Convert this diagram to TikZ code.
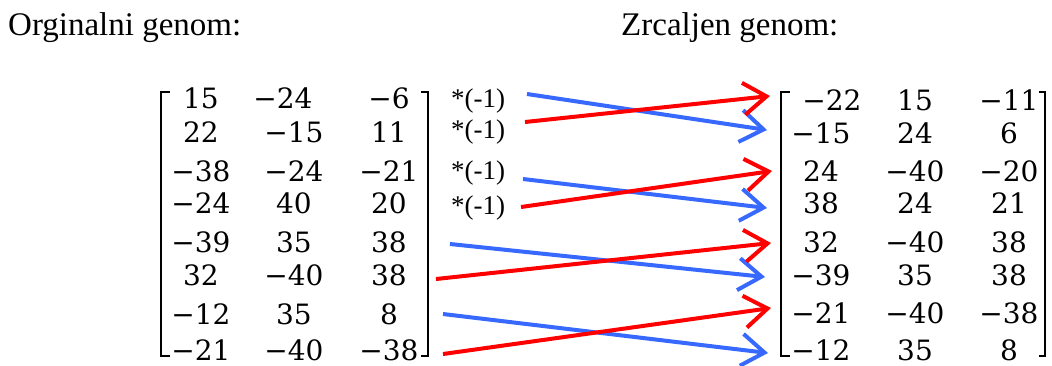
\documentclass[tikz,border=0pt]{standalone}
\usepackage{fontspec}
\setmainfont{Liberation Serif}
\newfontfamily\mfont{DejaVu Serif}
\usetikzlibrary{arrows.meta}
\definecolor{arrred}{RGB}{255,0,0}
\definecolor{arrblue}{RGB}{55,105,255}
\tikzset{
  title/.style={anchor=base west,inner sep=0pt,font=\fontsize{33}{40}\selectfont},
  ent/.style={inner sep=0pt,font=\mfont\fontsize{28}{33}\selectfont},
  lbl/.style={anchor=west,inner sep=0pt,font=\fontsize{27}{32}\selectfont},
  brk/.style={line width=2.4pt,line cap=butt},
  arr/.style={line width=4pt,-{Straight Barb[length=23pt,width=32pt,line width=4pt]}},
  redarr/.style={arr,draw=arrred},
  bluearr/.style={arr,draw=arrblue}
}
\begin{document}
\begin{tikzpicture}[x=1pt,y=-1pt]
\useasboundingbox (0,0) rectangle (1052,365);
\node[title] (t1) at (8,35) {Orginalni genom:};
\node[title] (t2) at (621,35) {Zrcaljen genom:};
% left matrix
\def\ly{{98,132,171,203,242,275,314,350}}
\foreach \r/\a/\b/\c/\bx in {
  1/15/−24/−6/283,
  2/22/−15/11/294,
  3/−38/−24/−21/294,
  4/−24/40/20/294,
  5/−39/35/38/294,
  6/32/−40/38/294,
  7/−12/35/8/294,
  8/−21/−40/−38/294}{
  \pgfmathsetmacro\yy{\ly[\r-1]}
  \node[ent] (L\r a) at (201,\yy) {\a};
  \node[ent] (L\r b) at (\bx,\yy) {\b};
  \node[ent] (L\r c) at (389,\yy) {\c};
}
\draw[brk] (170,92) -- (161,92) -- (161,356) -- (170,356);
\draw[brk] (421,92) -- (428,92) -- (428,356) -- (421,356);
% right matrix
\def\ry{{100,133,171,203,242,275,313,350}}
\foreach \r/\a/\b/\c/\ax in {
  1/−22/15/−11/832,
  2/−15/24/6/821,
  3/24/−40/−20/821,
  4/38/24/21/821,
  5/32/−40/38/821,
  6/−39/35/38/821,
  7/−21/−40/−38/821,
  8/−12/35/8/821}{
  \pgfmathsetmacro\yy{\ry[\r-1]}
  \node[ent] (R\r a) at (\ax,\yy) {\a};
  \node[ent] (R\r b) at (915,\yy) {\b};
  \node[ent] (R\r c) at (1009,\yy) {\c};
}
\draw[brk] (790,92) -- (781,92) -- (781,356) -- (790,356);
\draw[brk] (1039,92) -- (1045,92) -- (1045,356) -- (1039,356);
% labels
\node[lbl] (m1) at (451,101) {*(-1)};
\node[lbl] (m2) at (451,132) {*(-1)};
\node[lbl] (m3) at (451,173) {*(-1)};
\node[lbl] (m4) at (451,208) {*(-1)};
% arrow end points
\coordinate (bs1) at (527,94);  \coordinate (be1) at (767,130);
\coordinate (rs1) at (525,122); \coordinate (re1) at (770,96);
\coordinate (bs2) at (523,179); \coordinate (be2) at (767,208);
\coordinate (rs2) at (521,207); \coordinate (re2) at (772,171);
\coordinate (bs3) at (450,244); \coordinate (be3) at (765,277);
\coordinate (rs3) at (436,279); \coordinate (re3) at (771,243);
\coordinate (bs4) at (443,314); \coordinate (be4) at (768,353);
\coordinate (rs4) at (443,354); \coordinate (re4) at (771,308);
\foreach \i in {1,...,4}{
  \draw[bluearr] (bs\i) -- (be\i);
  \draw[redarr] (rs\i) -- (re\i);
}
\end{tikzpicture}
\end{document}
